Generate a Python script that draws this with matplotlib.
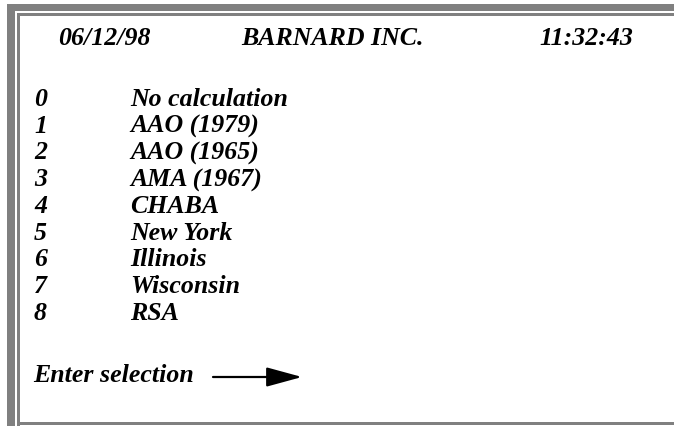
import matplotlib.pyplot as plt
from matplotlib.patches import Rectangle

# Screen content
header_date = '06/12/98'
header_company = 'BARNARD INC.'
header_time = '11:32:43'
codes = ['0', '1', '2', '3', '4', '5', '6', '7', '8']
methods = ['No calculation', 'AAO (1979)', 'AAO (1965)', 'AMA (1967)',
           'CHABA', 'New York', 'Illinois', 'Wisconsin', 'RSA']
prompt = 'Enter selection'

W, H = 674, 427
fig = plt.figure(figsize=(W / 100, H / 100), dpi=100)
ax = fig.add_axes([0, 0, 1, 1])
ax.set_xlim(0, W)
ax.set_ylim(H, 0)
ax.axis('off')

gray = '#808080'
# thick frame (top and left) and thin inner frame
ax.add_patch(Rectangle((7, 5), W - 7, 7, color=gray, lw=0))
ax.add_patch(Rectangle((7, 5), 8, H - 5, color=gray, lw=0))
ax.add_patch(Rectangle((17, 14), W - 17, 2.5, color=gray, lw=0))
ax.add_patch(Rectangle((17, 14), 2.5, H - 14, color=gray, lw=0))
ax.add_patch(Rectangle((17, 423), W - 17, 2.5, color=gray, lw=0))

font = dict(family='Liberation Serif', weight='bold', style='italic',
            fontsize=18.6, color='black', va='baseline')

ax.text(58, 45, header_date, ha='left', **font)
ax.text(332, 45, header_company, ha='center', **font)
ax.text(633, 45, header_time, ha='right', **font)

row0, step = 106, 26.75
for i, (c, m) in enumerate(zip(codes, methods)):
    y = row0 + i * step
    ax.text(34, y, c, ha='left', **font)
    ax.text(130, y, m, ha='left', **font)

ax.text(33, 382, prompt, ha='left', **font)
ax.annotate('', xy=(302, 378), xytext=(213, 378),
            arrowprops=dict(arrowstyle='-|>,head_length=1.1,head_width=0.3',
                            lw=1.6, color='black', mutation_scale=20,
                            shrinkA=0, shrinkB=0))

fig.savefig('out.png', dpi=100)
